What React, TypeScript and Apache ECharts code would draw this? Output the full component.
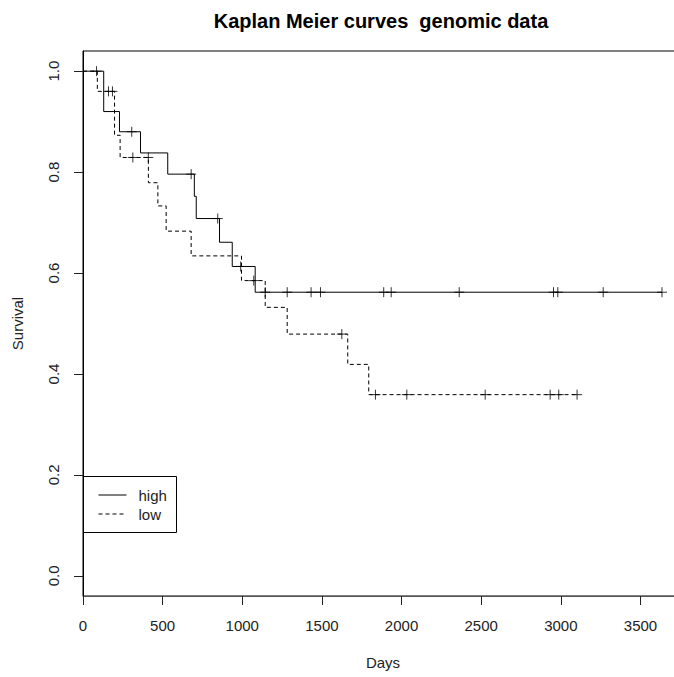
import React, { useEffect, useRef } from "react";
import * as echarts from "echarts";

// Kaplan–Meier step data (time in days, survival probability)
const highTimes = [0, 130, 229, 361, 532, 699, 711, 857, 937, 1081];
const highSurv = [1.0, 0.92, 0.88, 0.838, 0.796, 0.752, 0.708, 0.661, 0.613, 0.562];
const highEnd = 3635;
const highCensor = [85, 306, 679, 846, 990, 1144, 1282, 1432, 1491, 1888, 1935, 2362, 2954, 2981, 3266, 3635];

const lowTimes = [0, 90, 198, 233, 410.5, 470, 522, 679, 995, 1144, 1282, 1662, 1794];
const lowSurv = [1.0, 0.96, 0.873, 0.829, 0.779, 0.733, 0.683, 0.634, 0.585, 0.532, 0.479, 0.419, 0.359];
const lowEnd = 3102;
const lowCensor = [160, 185, 313, 410, 1072, 1625, 1836, 2033, 2525, 2933, 2987, 3102];

const xTicks = [0, 500, 1000, 1500, 2000, 2500, 3000, 3500];
const yTicks = [0, 0.2, 0.4, 0.6, 0.8, 1.0];

const FONT = "'Liberation Sans', Arial, Helvetica, sans-serif";
const TEXT = "#222";

function stepData(times: number[], surv: number[], end: number) {
  const pts = times.map((t, i) => [t, surv[i]]);
  pts.push([end, surv[surv.length - 1]]);
  return pts;
}

function survAt(times: number[], surv: number[], t: number) {
  let v = surv[0];
  for (let i = 0; i < times.length; i++) if (t >= times[i]) v = surv[i];
  return v;
}

const PLUS = "path://M5,0L5,10M0,5L10,5";

export default function App() {
  const ref = useRef<HTMLDivElement>(null);

  useEffect(() => {
    if (!ref.current) return;
    const chart = echarts.init(ref.current, null, { renderer: "svg" });
    chart.setOption({
      animation: false,
      backgroundColor: "#fff",
      textStyle: { fontFamily: FONT },
      grid: {
        left: 83,
        top: 51,
        right: -9,
        bottom: 81,
        outerBoundsMode: "none",
        containLabel: false,
        show: true,
        borderColor: "#000",
        borderWidth: 1,
      },
      xAxis: {
        type: "value",
        min: 0,
        max: 3767,
        name: "Days",
        nameLocation: "middle",
        nameGap: 59,
        nameTextStyle: { fontSize: 15, color: TEXT, fontFamily: FONT },
        splitLine: { show: false },
        axisLine: { show: true, onZero: false, lineStyle: { color: "#555", width: 1 } },
        axisTick: {
          show: true,
          length: 9,
          customValues: xTicks,
          lineStyle: { color: "#222" },
        },
        axisLabel: {
          customValues: xTicks,
          margin: 22,
          fontSize: 15,
          color: TEXT,
          fontFamily: FONT,
          formatter: (v: number) => String(v),
        },
      },
      yAxis: {
        type: "value",
        min: -0.04,
        max: 1.04,
        name: "Survival",
        nameLocation: "middle",
        nameRotate: 90,
        nameGap: 58,
        nameTextStyle: { fontSize: 15, color: TEXT, fontFamily: FONT },
        splitLine: { show: false },
        axisLine: { show: true, onZero: false, lineStyle: { color: "#000", width: 1 } },
        axisTick: {
          show: true,
          length: 9,
          customValues: yTicks,
          lineStyle: { color: "#222" },
        },
        axisLabel: {
          customValues: yTicks,
          rotate: 90,
          margin: 22,
          fontSize: 15,
          color: TEXT,
          fontFamily: FONT,
          formatter: (v: number) => v.toFixed(1),
        },
      },
      series: [
        {
          name: "high",
          type: "line",
          step: "end",
          symbol: "none",
          data: stepData(highTimes, highSurv, highEnd),
          lineStyle: { color: "#000", width: 1, type: "solid" },
        },
        {
          name: "low",
          type: "line",
          step: "end",
          symbol: "none",
          data: stepData(lowTimes, lowSurv, lowEnd),
          lineStyle: { color: "#000", width: 1, type: [4, 3] },
        },
        {
          name: "high censored",
          type: "scatter",
          symbol: PLUS,
          symbolSize: 10,
          data: highCensor.map((t) => [t, survAt(highTimes, highSurv, t)]),
          itemStyle: { color: "none", borderColor: "#000", borderWidth: 1 },
        },
        {
          name: "low censored",
          type: "scatter",
          symbol: PLUS,
          symbolSize: 10,
          data: lowCensor.map((t) => [t, survAt(lowTimes, lowSurv, t)]),
          itemStyle: { color: "none", borderColor: "#000", borderWidth: 1 },
        },
      ],
      graphic: [
        {
          type: "text",
          x: 381,
          y: 21,
          style: {
            text: "Kaplan Meier curves  genomic data",
            font: `bold 20px ${FONT}`,
            fill: "#000",
            align: "center",
            verticalAlign: "middle",
          },
        },
        {
          type: "group",
          left: 83,
          top: 476,
          children: [
            {
              type: "rect",
              shape: { x: 0, y: 0, width: 93, height: 56 },
              style: { fill: "#fff", stroke: "#000", lineWidth: 1 },
            },
            {
              type: "line",
              shape: { x1: 15, y1: 18.5, x2: 43, y2: 18.5 },
              style: { stroke: "#000", lineWidth: 1 },
            },
            {
              type: "line",
              shape: { x1: 15, y1: 37.5, x2: 43, y2: 37.5 },
              style: { stroke: "#000", lineWidth: 1, lineDash: [4, 3] },
            },
            {
              type: "text",
              x: 55,
              y: 18.5,
              style: {
                text: "high",
                font: `15px ${FONT}`,
                fill: TEXT,
                verticalAlign: "middle",
              },
            },
            {
              type: "text",
              x: 55,
              y: 37.5,
              style: {
                text: "low",
                font: `15px ${FONT}`,
                fill: TEXT,
                verticalAlign: "middle",
              },
            },
          ],
        },
      ],
    });
    return () => chart.dispose();
  }, []);

  return (
    <div
      ref={ref}
      style={{ position: "fixed", left: 0, top: 0, width: 674, height: 677 }}
    />
  );
}
